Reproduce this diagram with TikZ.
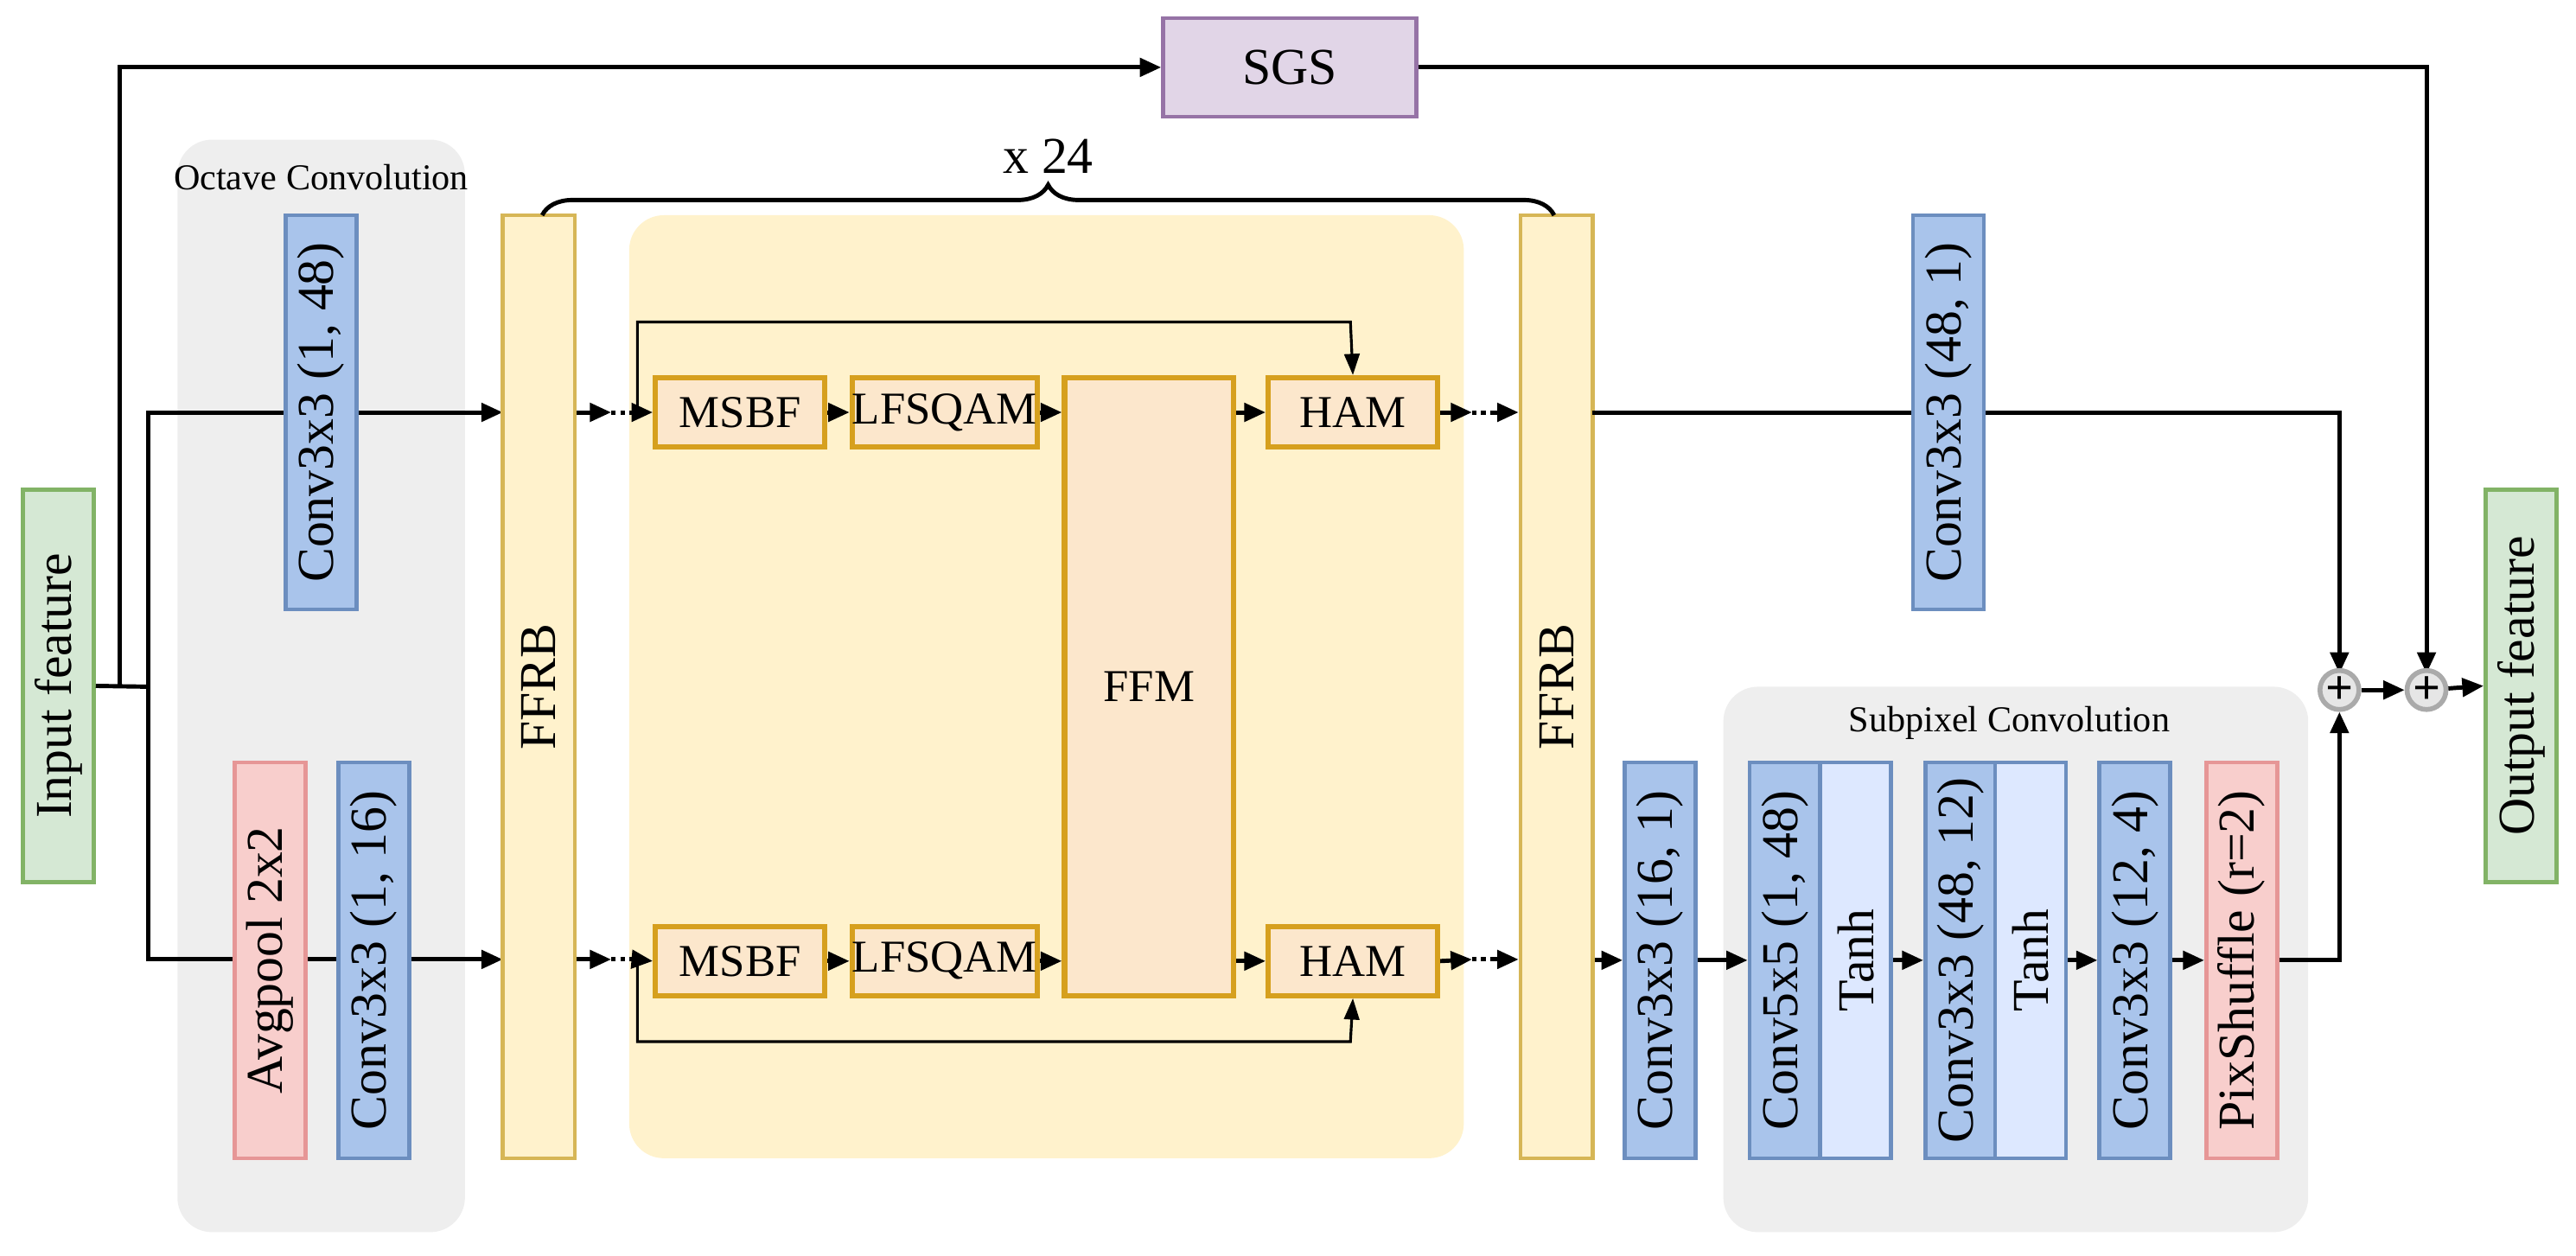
\documentclass[tikz,border=0pt]{standalone}
\usepackage{fontspec}
\setmainfont{Liberation Serif}
\usetikzlibrary{arrows.meta,decorations.pathreplacing}
\definecolor{bggray}{RGB}{238,238,238}
\definecolor{gfill}{RGB}{213,232,212}\definecolor{gdraw}{RGB}{130,179,102}
\definecolor{bfill}{RGB}{169,196,235}\definecolor{bdraw}{RGB}{108,142,191}
\definecolor{lbfill}{RGB}{221,232,255}
\definecolor{rfill}{RGB}{248,206,204}\definecolor{rdraw}{RGB}{230,150,150}
\definecolor{yfill}{RGB}{255,242,204}\definecolor{ydraw}{RGB}{214,182,86}
\definecolor{ofill}{RGB}{252,231,204}\definecolor{odraw}{RGB}{214,160,30}
\definecolor{pfill}{RGB}{225,213,231}\definecolor{pdraw}{RGB}{150,115,166}
\definecolor{plfill}{RGB}{230,230,230}\definecolor{pldraw}{RGB}{170,170,170}
\begin{document}
\begin{tikzpicture}[x=0.019cm,y=-0.019cm,
  base/.style={draw, line width=1.3pt, inner sep=0pt, font=\fontsize{17}{20}\selectfont},
  vb/.style={base, rotate=90, minimum width=#1*0.019cm, minimum height=0.82cm},
  green/.style={fill=gfill, draw=gdraw},
  lblue/.style={fill=bfill, draw=bdraw},
  tanh/.style={fill=lbfill, draw=bdraw},
  red/.style={fill=rfill, draw=rdraw},
  yel/.style={fill=yfill, draw=ydraw},
  org/.style={base, fill=ofill, draw=odraw, line width=1.8pt, minimum width=103*0.019cm, minimum height=42*0.019cm, font=\fontsize{15}{18}\selectfont},
  arr/.style={line width=1.4pt, -{Triangle[length=7pt,width=6pt]}},
  ln/.style={line width=1.4pt},
  thin/.style={line width=0.9pt, -{Triangle[length=7pt,width=5pt]}},
  dots/.style={line width=1.4pt, dash pattern=on 1.5pt off 1.5pt},
  plus/.style={circle, draw=pldraw, fill=plfill, line width=1.6pt, minimum size=20*0.019cm, inner sep=0pt, font=\bfseries\fontsize{16}{16}\selectfont},
  lab/.style={font=\fontsize{12}{14}\selectfont}
]
\useasboundingbox (0,0) rectangle (1568,764.5);
% backgrounds
\fill[bggray, rounded corners=0.4cm] (108,85) rectangle (283,750);
\node[lab] (octl) at (195.5,108) {Octave Convolution};
\fill[bggray, rounded corners=0.4cm] (1049,418) rectangle (1405,750);
\node[lab] (subl) at (1223,440) {Subpixel Convolution};
\fill[yfill, rounded corners=0.4cm] (383,131) rectangle (891,705);

\coordinate (j1) at (90,418);
\coordinate (j0) at (73,418);

\node[vb=239, green] (in) at (35.5,417.5) {Input feature};
\node[vb=239, green] (out) at (1534.5,417.5) {Output feature};
\node[base, fill=pfill, draw=pdraw, minimum width=154*0.019cm, minimum height=60*0.019cm] (sgs) at (785,41) {SGS};

\draw[ln] (in.south) -- (j1);
\draw[arr] (j0) |- (sgs.west);
\draw[arr] (j1) |- (306,251);
\draw[arr] (j1) |- (306,584);

\node[vb=240, lblue] (c148) at (195.5,251) {Conv3x3 (1, 48)};
\node[vb=241, red] (avg) at (164.5,584.5) {Avgpool 2x2};
\node[vb=241, lblue] (c116) at (227.5,584.5) {Conv3x3 (1, 16)};
\node[vb=574, yel, minimum height=44*0.019cm] (f1) at (328,418) {FFRB};
\node[vb=574, yel, minimum height=44*0.019cm] (f2) at (947.5,418) {FFRB};

\node[org] (m1) at (450.5,251) {MSBF};
\node[org] (l1) at (575,251) {LFSQAM};
\node[org] (h1) at (823.5,251) {HAM};
\node[org] (m2) at (450.5,585) {MSBF};
\node[org] (l2) at (575,585) {LFSQAM};
\node[org] (h2) at (823.5,585) {HAM};
\node[org, minimum height=376*0.019cm] (ffm) at (699.5,418) {FFM};

\draw[arr] (969,251) -| (1424,410);
\draw[arr] (sgs.east) -| (1477,410);

\node[vb=240, lblue] (c481) at (1186,251) {Conv3x3 (48, 1)};
\node[vb=241, lblue] (c161) at (1010.5,584.5) {Conv3x3 (16, 1)};
\node[vb=241, lblue] (c55) at (1086.5,584.5) {Conv5x5 (1, 48)};
\node[vb=241, tanh] (t1) at (1129.5,584.5) {Tanh};
\node[vb=241, lblue] (c4812) at (1193.5,584.5) {Conv3x3 (48, 12)};
\node[vb=241, tanh] (t2) at (1236,584.5) {Tanh};
\node[vb=241, lblue] (c124) at (1299.5,584.5) {Conv3x3 (12, 4)};
\node[vb=241, red] (pix) at (1364.5,584.5) {PixShuffle (r=2)};

\node[plus] (p1) at (1424,420) {+};
\node[plus] (p2) at (1477,420) {+};

\draw[line width=1.4pt, decorate, decoration={brace, amplitude=10pt}] (330,131) -- (946,131);
\node[font=\fontsize{17}{20}\selectfont] (x24) at (638,95) {x 24};

\coordinate (a1) at (372,251); \coordinate (b1) at (386,251);
\coordinate (a2) at (372,584); \coordinate (b2) at (386,584);
\draw[arr] (f1.south |- a1) -- (a1); \draw[dots] (a1) -- (b1); \draw[arr] (b1) -- (m1.west);
\draw[arr] (f1.south |- a2) -- (a2); \draw[dots] (a2) -- (b2); \draw[arr] (b2) -- (m2.west);
\draw[arr] (m1) -- (l1); \draw[arr] (l1) -- (ffm.west |- l1); \draw[arr] (ffm.east |- h1) -- (h1);
\draw[arr] (m2) -- (l2); \draw[arr] (l2) -- (ffm.west |- l2); \draw[arr] (ffm.east |- h2) -- (h2);
\coordinate (e1) at (896,251); \coordinate (g1) at (908,251);
\coordinate (e2) at (896,584); \coordinate (g2) at (908,584);
\draw[arr] (h1.east) -- (e1); \draw[dots] (e1) -- (g1); \draw[arr] (g1) -- (f2.north |- g1);
\draw[arr] (h2.east) -- (e2); \draw[dots] (e2) -- (g2); \draw[arr] (g2) -- (f2.north |- g2);
\draw[thin] (388,251) |- (822,196) -- (h1.north);
\draw[thin] (388,584) |- (822,634) -- (h2.south);

\draw[arr] (f2.south |- c161) -- (c161.north);
\draw[arr] (c161.south) -- (c55.north);
\draw[arr] (t1.south) -- (c4812.north);
\draw[arr] (t2.south) -- (c124.north);
\draw[arr] (c124.south) -- (pix.north);
\draw[arr] (pix.south) -| (p1.south);
\draw[arr] (p1) -- (p2);
\draw[arr] (p2) -- (out.north);
\end{tikzpicture}
\end{document}
